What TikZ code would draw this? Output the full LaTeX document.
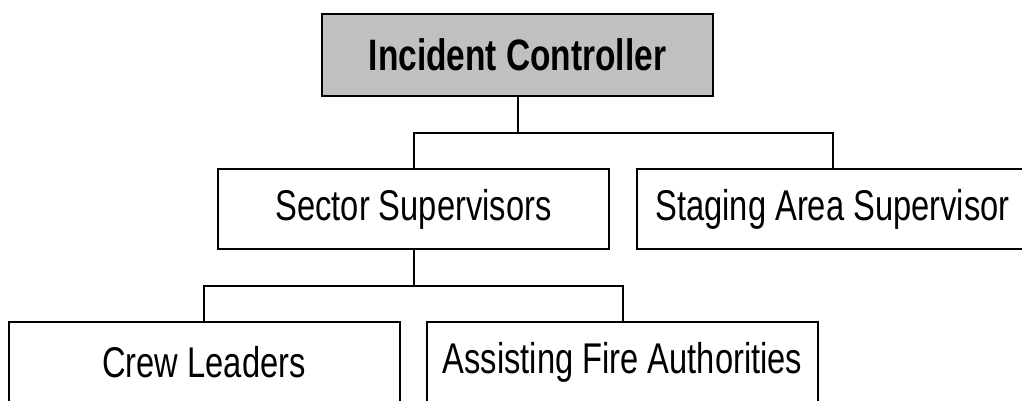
\documentclass[tikz,border=0pt]{standalone}
\usepackage{fontspec}
\setmainfont{Liberation Sans}[FakeStretch=0.76]
\begin{document}
\begin{tikzpicture}[x=1pt,y=-1pt,
  box/.style={draw=black,line width=2pt,minimum width=391pt,minimum height=80pt,inner sep=0pt,
    font=\fontsize{43}{50}\selectfont,fill=white},
  link/.style={draw=black,line width=2pt}]
\useasboundingbox (0,0) rectangle (1022,401);
\clip (0,0) rectangle (1022,401);
\node[box,fill={rgb,255:red,192;green,192;blue,192},minimum height=82pt,font=\fontsize{44}{50}\selectfont\bfseries] (ic) at (517.5,55) {Incident Controller};
\node[box] (ss) at (413.5,209) {Sector Supervisors};
\node[box] (sa) at (832.5,209) {Staging Area Supervisor};
\node[box] (cl) at (204,362) {Crew Leaders};
\node[box] (af) at (622.5,362) {Assisting Fire Authorities};
\coordinate (j1) at (517.5,133);
\coordinate (j2) at (413.5,286);
\draw[link] (ic.south) -- (j1);
\draw[link] (ss.north) |- (j1) -| (sa.north);
\draw[link] (ss.south) -- (j2);
\draw[link] (cl.north) |- (j2) -| (af.north);
\end{tikzpicture}
\end{document}
